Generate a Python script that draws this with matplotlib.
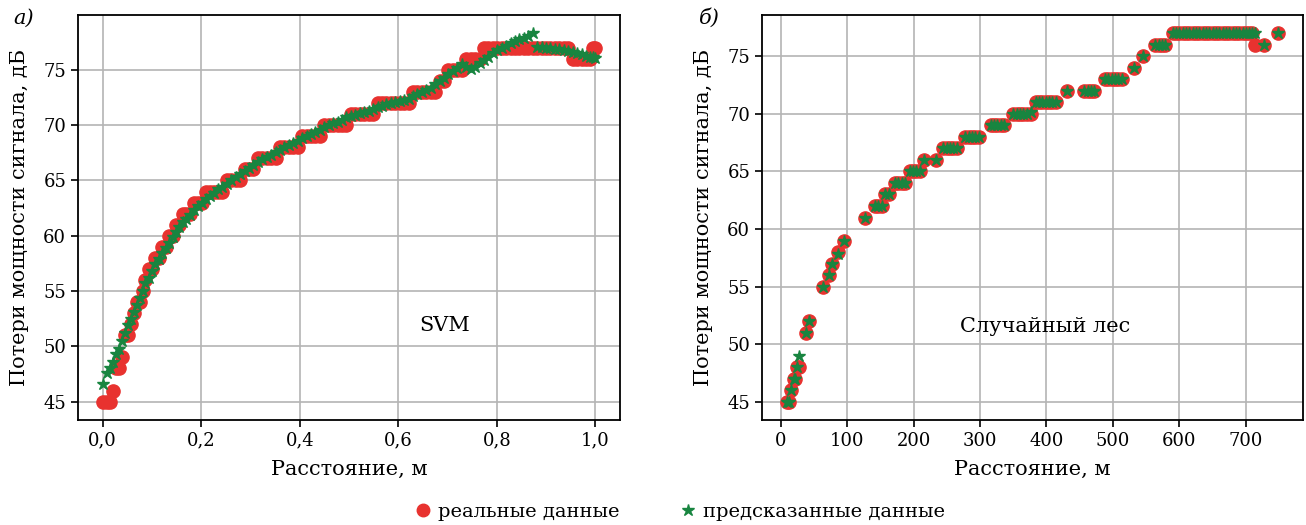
import matplotlib.pyplot as plt
from matplotlib.ticker import FuncFormatter
from matplotlib.lines import Line2D

# --- (а) SVM: distance in normalized units, real vs predicted loss, dB
svm_x = [0.000, 0.008, 0.015, 0.021, 0.027, 0.033, 0.039, 0.045, 0.051, 0.057,
         0.063, 0.069, 0.075, 0.081, 0.087, 0.094, 0.100, 0.107, 0.114, 0.121,
         0.128, 0.135, 0.142, 0.149, 0.156, 0.163, 0.170, 0.178, 0.186, 0.194,
         0.202, 0.210, 0.218, 0.226, 0.234, 0.243, 0.252, 0.261, 0.270, 0.279,
         0.288, 0.297, 0.306, 0.315, 0.324, 0.333, 0.342, 0.351, 0.360, 0.369,
         0.378, 0.387, 0.396, 0.405, 0.414, 0.423, 0.432, 0.441, 0.450, 0.459,
         0.468, 0.477, 0.486, 0.495, 0.504, 0.513, 0.522, 0.531, 0.540, 0.549,
         0.558, 0.567, 0.576, 0.585, 0.594, 0.603, 0.612, 0.621, 0.630, 0.639,
         0.648, 0.657, 0.666, 0.675, 0.684, 0.693, 0.702, 0.711, 0.720, 0.729,
         0.738, 0.747, 0.756, 0.765, 0.774, 0.783, 0.792, 0.801, 0.810, 0.819,
         0.828, 0.837, 0.846, 0.855, 0.864, 0.873, 0.882, 0.891, 0.900, 0.909,
         0.918, 0.927, 0.936, 0.945, 0.954, 0.963, 0.972, 0.981, 0.990, 0.995,
         1.000]
svm_real = [45, 45, 45, 46, 48, 48, 49, 51, 51, 52,
            53, 54, 54, 55, 56, 57, 57, 58, 58, 59,
            59, 60, 60, 61, 61, 62, 62, 62, 63, 63,
            63, 64, 64, 64, 64, 64, 65, 65, 65, 65,
            66, 66, 66, 67, 67, 67, 67, 67, 68, 68,
            68, 68, 68, 69, 69, 69, 69, 69, 70, 70,
            70, 70, 70, 70, 71, 71, 71, 71, 71, 71,
            72, 72, 72, 72, 72, 72, 72, 72, 73, 73,
            73, 73, 73, 73, 74, 74, 75, 75, 75, 75,
            76, 76, 76, 76, 77, 77, 77, 77, 77, 77,
            77, 77, 77, 77, 77, 77, 77, 77, 77, 77,
            77, 77, 77, 77, 76, 76, 76, 76, 76, 77,
            77]
svm_pred = [46.6, 47.6, 48.0, 48.6, 49.3, 49.8, 50.5, 51.2, 51.9, 52.5,
            53.1, 53.7, 54.4, 55.0, 55.7, 56.2, 56.8, 57.4, 57.9, 58.4,
            58.9, 59.3, 59.9, 60.3, 60.8, 61.2, 61.5, 61.9, 62.3, 62.7,
            63.0, 63.3, 63.6, 63.9, 64.2, 64.4, 64.7, 65.0, 65.3, 65.6,
            65.9, 66.1, 66.4, 66.7, 66.9, 67.1, 67.3, 67.6, 67.8, 68.0,
            68.2, 68.4, 68.6, 68.8, 69.0, 69.2, 69.4, 69.6, 69.8, 70.0,
            70.2, 70.3, 70.5, 70.7, 70.8, 70.9, 71.1, 71.2, 71.3, 71.5,
            71.6, 71.7, 71.9, 72.0, 72.1, 72.2, 72.3, 72.4, 72.6, 72.8,
            73.0, 73.2, 73.4, 73.7, 74.0, 74.3, 74.6, 74.9, 75.2, 75.5,
            75.3, 75.1, 75.3, 75.6, 75.9, 76.2, 76.5, 76.8, 77.0, 77.2,
            77.4, 77.6, 77.8, 77.9, 78.1, 78.3, 77.1, 77.1, 77.0, 77.0,
            76.9, 76.9, 76.8, 76.7, 76.6, 76.5, 76.4, 76.3, 76.2, 76.2,
            76.1]

# --- (б) random forest: distance in metres
rf_x = [9, 13, 16, 20, 22, 24, 27, 38, 43, 64,
        72, 77, 87, 96, 127, 142, 147, 152, 157, 163,
        172, 177, 182, 187, 194, 199, 204, 209, 216, 234,
        245, 250, 255, 260, 265, 278, 283, 288, 293, 298,
        316, 321, 326, 331, 336, 350, 355, 360, 365, 370,
        376, 384, 389, 394, 399, 404, 409, 414, 431, 457,
        462, 467, 472, 488, 493, 498, 503, 508, 513, 532,
        545, 564, 569, 574, 579, 590, 595, 600, 605, 610,
        615, 620, 625, 630, 635, 640, 645, 650, 655, 660,
        665, 670, 675, 680, 685, 690, 695, 700, 705, 710,
        714, 727, 749]
rf_real = [45, 45, 46, 47, 47, 48, 48, 51, 52, 55,
           56, 57, 58, 59, 61, 62, 62, 62, 63, 63,
           64, 64, 64, 64, 65, 65, 65, 65, 66, 66,
           67, 67, 67, 67, 67, 68, 68, 68, 68, 68,
           69, 69, 69, 69, 69, 70, 70, 70, 70, 70,
           70, 71, 71, 71, 71, 71, 71, 71, 72, 72,
           72, 72, 72, 73, 73, 73, 73, 73, 73, 74,
           75, 76, 76, 76, 76, 77, 77, 77, 77, 77,
           77, 77, 77, 77, 77, 77, 77, 77, 77, 77,
           77, 77, 77, 77, 77, 77, 77, 77, 77, 77,
           76, 76, 77]
rf_pred = [45, 45, 46, 47, 47, 48, 49, 51, 52, 55,
           56, 57, 57.8, 59, 61, 62, 62, 62, 63, 63,
           64, 64, 64, 64, 65, 65, 65, 65, 66, 66,
           67, 67, 67, 67, 67, 68, 68, 68, 68, 68,
           69, 69, 69, 69, 69, 70, 70, 70, 70, 70,
           70.2, 71, 71, 71, 71, 71, 71, 71, 72, 72,
           72, 72, 72, 73, 73, 73, 73, 73, 73, 74,
           75, 76, 76, 76, 76, 77, 77, 77, 77, 77,
           77, 77, 77, 77, 77, 77, 77, 77, 77, 77,
           77, 77, 77, 77, 77, 77, 77, 77, 77, 77,
           77, 76, 77]

red = '#e8322f'
green = '#188540'

plt.rcParams['font.family'] = ['DejaVu Serif']
plt.rcParams['font.size'] = 13

fig = plt.figure(figsize=(13.06, 5.25), dpi=100)
ax1 = fig.add_axes([0.0597, 0.2, 0.415, 0.7714])
ax2 = fig.add_axes([0.5835, 0.2, 0.4142, 0.7714])

comma = FuncFormatter(lambda v, p: f"{v:.1f}".replace('.', ','))

for ax, xs, real, pred in [(ax1, svm_x, svm_real, svm_pred),
                           (ax2, rf_x, rf_real, rf_pred)]:
    ax.plot(xs, real, 'o', color=red, markersize=9.5, linestyle='none', zorder=2)
    ax.plot(xs, pred, '*', color=green, markersize=9, linestyle='none', zorder=3)
    ax.grid(True, color='#b4b4b4', linewidth=1.2)
    ax.set_axisbelow(True)
    ax.set_yticks([45, 50, 55, 60, 65, 70, 75])
    ax.set_ylabel("Потери мощности сигнала, дБ", fontsize=15, labelpad=10)
    ax.set_xlabel("Расстояние, м", fontsize=15, labelpad=7)
    ax.tick_params(labelsize=13, length=5, width=1.2)
    for s in ax.spines.values():
        s.set_linewidth(1.3)

ax1.set_xticks([0.0, 0.2, 0.4, 0.6, 0.8, 1.0])
ax1.xaxis.set_major_formatter(comma)
ax2.set_xticks([0, 100, 200, 300, 400, 500, 600, 700])

ax1.text(0.695, 51.9, "SVM", fontsize=15, ha='center', va='center')
ax2.text(398, 51.55, "Случайный лес", fontsize=15, ha='center', va='center')

fig.text(0.010, 0.965, "а)", fontsize=15, style='italic', va='center')
fig.text(0.535, 0.965, "б)", fontsize=15, style='italic', va='center')

handles = [Line2D([], [], marker='o', color=red, linestyle='none', markersize=9),
           Line2D([], [], marker='*', color=green, linestyle='none', markersize=9)]
fig.legend(handles, ["реальные данные", "предсказанные данные"], ncol=2,
           loc='center', bbox_to_anchor=(0.52, 0.025), frameon=False,
           fontsize=14, handlelength=1.0, handletextpad=0.3, columnspacing=3.0)

fig.savefig("out.png", dpi=100)
